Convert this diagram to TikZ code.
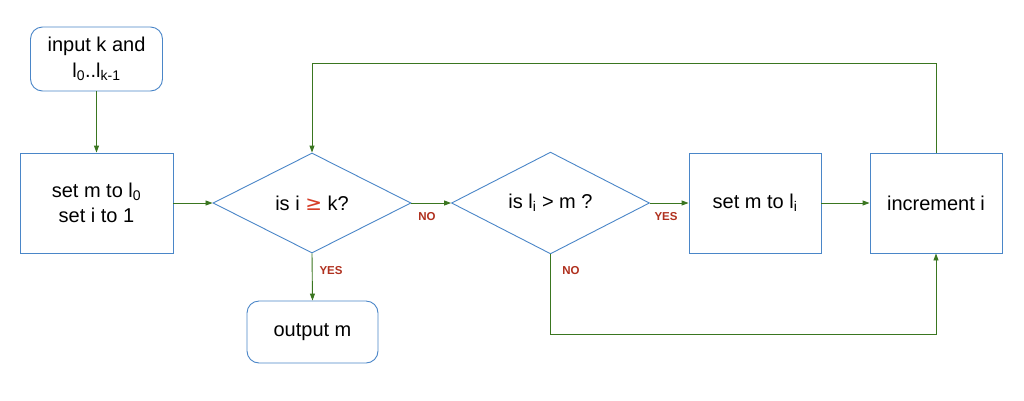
\documentclass[tikz,border=0pt]{standalone}
\usepackage{fontspec}
\setmainfont{Liberation Sans}
\newfontfamily\symfont{DejaVu Sans}
\usetikzlibrary{shapes.geometric,arrows.meta}
\definecolor{boxblue}{RGB}{74,134,200}
\definecolor{linegreen}{RGB}{58,118,32}
\definecolor{labelred}{RGB}{176,48,30}
\definecolor{symred}{RGB}{214,62,40}
\begin{document}
\begin{tikzpicture}[x=1pt,y=-1pt,
  every node/.style={font=\fontsize{20}{25}\selectfont, align=center, inner sep=0pt},
  procbox/.style={draw=boxblue, line width=0.9pt, minimum height=100pt},
  termbox/.style={draw=boxblue, line width=0.9pt, rounded corners=12pt},
  decision/.style={diamond, draw=boxblue, line width=0.9pt, minimum width=198pt, minimum height=100pt},
  flow/.style={draw=linegreen, line width=0.9pt, -{Triangle[length=7pt,width=5pt]}},
  lbl/.style={font=\fontsize{11.5}{12}\selectfont\bfseries, text=labelred}]
\useasboundingbox (0,0) rectangle (1024,400);
\fill[white] (0,0) rectangle (1024,400);

\node[termbox, minimum width=132pt, minimum height=64pt] (input) at (96.5,59)
  {input k and\\[1pt] l\textsubscript{0}..l\textsubscript{k-1}};
\node[procbox, minimum width=153pt] (set) at (96.5,203)
  {set m to l\textsubscript{0}\\ set i to 1};
\node[decision] (d1) at (312,203) {is i {\symfont\color{symred}≥} k?};
\node[decision] (d2) at (550.5,203) {is l\textsubscript{i} > m ?};
\node[procbox, minimum width=132pt] (setm) at (755,203) {set m to l\textsubscript{i}};
\node[procbox, minimum width=132pt] (inc) at (936,203) {increment i};
\node[termbox, minimum width=131pt, minimum height=62pt] (out) at (312.5,332) {output m};

\node[lbl] (no1) at (427,217) {NO};
\node[lbl] (yes1) at (331,271) {YES};
\node[lbl] (yes2) at (666,217) {YES};
\node[lbl] (no2) at (571,271) {NO};

\coordinate (looptop) at (936,63);
\coordinate (loopbot) at (550.5,334);

\draw[flow] (input) -- (set);
\draw[flow] (set) -- (d1);
\draw[flow] (d1.east) -- (d2.west);
\draw[flow] (d1.south) -- (out.north);
\draw[flow] (d2.east) -- (setm.west);
\draw[flow] (setm) -- (inc);
\draw[flow] (inc.north) -- (looptop) -| (d1.north);
\draw[flow] (d2.south) -- (loopbot) -| (inc.south);
\end{tikzpicture}
\end{document}
